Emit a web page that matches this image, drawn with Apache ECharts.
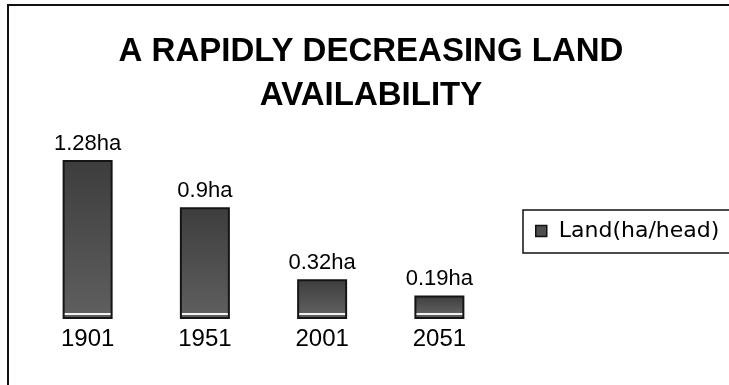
<!DOCTYPE html>
<html>
<head>
<meta charset="utf-8">
<script src="https://cdn.jsdelivr.net/npm/echarts@6/dist/echarts.min.js"></script>
<style>
html,body{margin:0;padding:0;background:#fff;}
#chart{width:729px;height:385px;}
</style>
</head>
<body>
<div id="chart"></div>
<script>
const titleText = 'A RAPIDLY DECREASING LAND\nAVAILABILITY';
const categories = ['1901', '1951', '2001', '2051'];
const seriesName = 'Land(ha/head)';
const landValues = [1.28, 0.9, 0.32, 0.19];

const yMax = 1.28;
const gridTop = 160, gridBottom = 66, chartH = 385;
const pxPerUnit = (chartH - gridTop - gridBottom) / yMax;

function barGradient(v) {
  const h = v * pxPerUnit;
  const a = Math.max(0, (h - 6) / h), b = Math.max(0, (h - 3.5) / h);
  return {
    type: 'linear', x: 0, y: 0, x2: 0, y2: 1,
    colorStops: [
      { offset: 0, color: '#3d3d3d' },
      { offset: a, color: '#5e5e5e' },
      { offset: a, color: '#f2f2f2' },
      { offset: b, color: '#f2f2f2' },
      { offset: b, color: '#5c5c5c' },
      { offset: 1, color: '#5c5c5c' }
    ]
  };
}

const chart = echarts.init(document.getElementById('chart'), null, { renderer: 'canvas' });
chart.setOption({
  backgroundColor: '#ffffff',
  animation: false,
  graphic: [{
    type: 'rect', z: -1,
    shape: { x: 8, y: 5, width: 900, height: 600 },
    style: { fill: 'none', stroke: '#111', lineWidth: 2 }
  }],
  title: {
    text: titleText,
    left: 371, top: 30, padding: 0,
    textAlign: 'center',
    textStyle: {
      fontFamily: 'Liberation Sans, Arial, sans-serif',
      fontSize: 33, fontWeight: 'bold', color: '#000', lineHeight: 44
    }
  },
  legend: {
    data: [seriesName],
    left: 523, top: 210,
    padding: [10, 40, 11, 12],
    borderColor: '#111', borderWidth: 1.5,
    itemWidth: 11, itemHeight: 11,
    icon: 'rect',
    itemStyle: { color: '#4e4e4e', borderColor: '#111', borderWidth: 1.5 },
    textStyle: {
      fontFamily: 'DejaVu Sans, sans-serif', fontSize: 22, color: '#000',
      padding: [0, 0, 0, 7], lineHeight: 20
    }
  },
  grid: { left: 29, width: 469, top: gridTop, bottom: gridBottom, containLabel: false },
  xAxis: {
    type: 'category', data: categories,
    axisLine: { show: false }, axisTick: { show: false },
    axisLabel: {
      margin: 8, color: '#000', fontSize: 24,
      fontFamily: 'Liberation Sans, Arial, sans-serif'
    }
  },
  yAxis: { type: 'value', min: 0, max: yMax, show: false, splitLine: { show: false } },
  series: [{
    name: seriesName, type: 'bar', barWidth: 50,
    data: landValues.map(v => ({ value: v, itemStyle: { color: barGradient(v) } })),
    itemStyle: { color: '#4e4e4e', borderColor: '#151515', borderWidth: 2 },
    label: {
      show: true, position: 'top', distance: 5,
      formatter: p => p.value + 'ha',
      color: '#000', fontSize: 22,
      fontFamily: 'Liberation Sans, Arial, sans-serif'
    }
  }]
});
</script>
</body>
</html>
